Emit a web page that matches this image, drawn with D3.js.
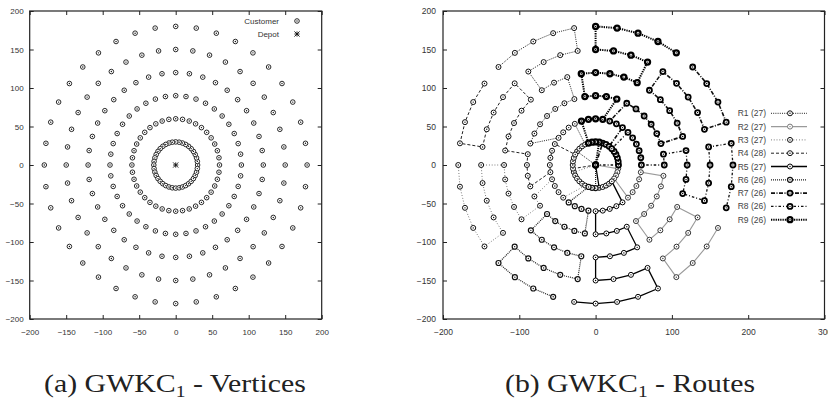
<!DOCTYPE html>
<html>
<head>
<meta charset="utf-8">
<script src="https://cdn.jsdelivr.net/npm/d3@7"></script>
<style>
body { margin: 0; background: #fff; }
</style>
</head>
<body>
<script>
const w = 828;
const h = 409;

// customers sit on rings around the depot
const ringRadii = [30, 60, 90, 120, 150, 180];
const ringAngles = [0, 9, 18, 27, 36, 45, 54, 63, 72, 81, 90, 99, 108, 117, 126, 135, 144, 153, 162, 171,
                    180, 189, 198, 207, 216, 225, 234, 243, 252, 261, 270, 279, 288, 297, 306, 315, 324, 333, 342, 351];
const depot = [0, 0];

const xTicksLeft = [-200, -150, -100, -50, 0, 50, 100, 150, 200];
const xTicksRight = [-200, -100, 0, 100, 200, 300];
const yTicks = [-200, -150, -100, -50, 0, 50, 100, 150, 200];

const routeLabels = ["R1 (27)", "R2 (27)", "R3 (27)", "R4 (28)", "R5 (27)", "R6 (26)", "R7 (26)", "R8 (26)", "R9 (26)"];

// routes: [ring index, angle index], from the depot outwards
const route1 = [[0,16],[0,15],[0,14],[0,13],[1,13],[1,14],[1,15],[1,16],[2,18],[2,17],[2,16],[2,15],[2,14],[2,13],
                [2,12],[3,12],[3,13],[3,14],[4,14],[4,13],[4,12],[4,11],[5,11],[5,12],[5,13],[5,14],[5,15]];
const route2 = [[0,39],[0,38],[0,37],[0,36],[1,35],[1,36],[1,37],[1,38],[1,39],[2,39],[2,38],[2,37],[2,36],[2,35],
                [2,34],[3,34],[3,35],[3,36],[3,37],[4,37],[4,36],[4,35],[4,34],[5,34],[5,35],[5,36],[5,37]];
const route3 = [[0,22],[0,23],[0,24],[0,25],[0,26],[0,27],[1,25],[1,24],[1,23],[1,22],[2,23],[2,24],[3,24],[3,23],
                [3,22],[3,21],[3,20],[4,20],[4,21],[4,22],[4,23],[4,24],[5,24],[5,23],[5,22],[5,21],[5,20]];
const route4 = [[0,21],[0,20],[0,19],[0,18],[0,17],[1,17],[1,18],[1,19],[1,20],[1,21],[2,22],[2,21],[2,20],[2,19],
                [3,19],[3,18],[3,17],[3,16],[3,15],[4,15],[4,16],[4,17],[4,18],[4,19],[5,19],[5,18],[5,17],[5,16]];
const route5 = [[0,31],[0,32],[0,33],[0,34],[0,35],[1,34],[1,33],[1,32],[1,31],[1,30],[2,30],[2,31],[2,32],[2,33],
                [3,33],[3,32],[3,31],[3,30],[4,30],[4,31],[4,32],[4,33],[5,33],[5,32],[5,31],[5,30],[5,29]];
const route6 = [[0,30],[0,29],[0,28],[1,26],[1,27],[1,28],[1,29],[2,29],[2,28],[2,27],[2,26],[2,25],[3,25],
                [3,26],[3,27],[3,28],[3,29],[4,29],[4,28],[4,27],[4,26],[4,25],[5,25],[5,26],[5,27],[5,28]];
const route7 = [[0,8],[0,7],[0,6],[1,6],[1,7],[1,8],[2,7],[2,6],[2,5],[2,4],[2,3],[2,2],[3,2],
                [3,3],[3,4],[3,5],[3,6],[4,6],[4,5],[4,4],[4,3],[4,2],[5,2],[5,3],[5,4],[5,5]];
const route8 = [[0,0],[0,1],[0,2],[0,3],[0,4],[0,5],[1,5],[1,4],[1,3],[1,2],[1,1],[1,0],[2,0],
                [2,1],[3,1],[3,0],[3,39],[3,38],[4,38],[4,39],[4,0],[4,1],[5,1],[5,0],[5,39],[5,38]];
const route9 = [[0,9],[0,10],[0,11],[0,12],[1,12],[1,11],[1,10],[1,9],[2,8],[2,9],[2,10],[2,11],[3,11],
                [3,10],[3,9],[3,8],[3,7],[4,7],[4,8],[4,9],[4,10],[5,10],[5,9],[5,8],[5,7],[5,6]];
const routes = [route1, route2, route3, route4, route5, route6, route7, route8, route9];

// line look of each route (gnuplot style)
const routeStyles = [
    {stroke: "#222", width: 1.0, dash: "1,1.2",       mark: 1.0, markStroke: "#111"},
    {stroke: "#9a9a9a", width: 1.1, dash: null,        mark: 1.0, markStroke: "#333"},
    {stroke: "#333", width: 0.8, dash: "0.8,2",       mark: 1.0, markStroke: "#111"},
    {stroke: "#222", width: 1.0, dash: "3,2",         mark: 1.0, markStroke: "#111"},
    {stroke: "#000", width: 1.3, dash: null,          mark: 1.0, markStroke: "#000"},
    {stroke: "#222", width: 1.2, dash: "1,1",         mark: 1.2, markStroke: "#111"},
    {stroke: "#111", width: 1.6, dash: "4,1.5,1,1.5", mark: 1.8, markStroke: "#000"},
    {stroke: "#111", width: 1.3, dash: "2.5,2,1,2",   mark: 1.8, markStroke: "#000"},
    {stroke: "#000", width: 2.0, dash: "1.3,1",       mark: 2.3, markStroke: "#000"}
];

function toXY(node) {
    const r = ringRadii[node[0]];
    const a = ringAngles[node[1]] * Math.PI / 180;
    return [r * Math.cos(a), r * Math.sin(a)];
}

let customers = [];
ringRadii.forEach((r, i) => ringAngles.forEach((a, j) => customers.push(toXY([i, j]))));

const svg = d3.select("body")
            .append("svg")
                .attr("width", w)
                .attr("height", h);

const xL = d3.scaleLinear().domain([-200, 200]).range([29.7, 321.7]);
const yL = d3.scaleLinear().domain([-200, 200]).range([319, 11]);
const xR = d3.scaleLinear().domain([-200, 300]).range([443, 824.5]);
const yR = d3.scaleLinear().domain([-200, 200]).range([319, 11]);

function frame(x, y, xTicks, font, fontSize, yPad) {
    const g = svg.append("g");
    const x0 = x.range()[0], x1 = x.range()[1];
    const y0 = y.range()[0], y1 = y.range()[1];
    g.append("g").attr("transform", "translate(0," + y0 + ")")
        .call(d3.axisBottom(x).tickValues(xTicks).tickSizeInner(-4).tickSizeOuter(0).tickPadding(10));
    g.append("g").attr("transform", "translate(0," + y1 + ")")
        .call(d3.axisTop(x).tickValues(xTicks).tickSizeInner(-4).tickSizeOuter(0).tickFormat(""));
    g.append("g").attr("transform", "translate(" + x0 + ",0)")
        .call(d3.axisLeft(y).tickValues(yTicks).tickSizeInner(-4).tickSizeOuter(0).tickPadding(yPad));
    g.append("g").attr("transform", "translate(" + x1 + ",0)")
        .call(d3.axisRight(y).tickValues(yTicks).tickSizeInner(-4).tickSizeOuter(0).tickFormat(""));
    g.selectAll(".domain").remove();
    g.selectAll(".tick line").attr("stroke", "#222").attr("stroke-width", 1);
    g.selectAll(".tick text").attr("fill", "#333")
        .attr("font-family", font).attr("font-size", fontSize);
    g.append("rect")
        .attr("x", x0).attr("y", y1)
        .attr("width", x1 - x0).attr("height", y0 - y1)
        .attr("fill", "none").attr("stroke", "#222").attr("stroke-width", 1.2);
}

function marker(g, px, py, sw, col, r) {
    g.append("circle").attr("cx", px).attr("cy", py).attr("r", r || 2.3)
        .attr("fill", "#fff").attr("stroke", col).attr("stroke-width", sw);
    g.append("circle").attr("cx", px).attr("cy", py).attr("r", 0.7).attr("fill", col);
}

function star(g, px, py, s) {
    [[-s, 0, s, 0], [0, -s, 0, s], [-s, -s, s, s], [-s, s, s, -s]].forEach(l => {
        g.append("line")
            .attr("x1", px + l[0]).attr("y1", py + l[1])
            .attr("x2", px + l[2]).attr("y2", py + l[3])
            .attr("stroke", "#111").attr("stroke-width", 0.9);
    });
}

// (a) vertices
frame(xL, yL, xTicksLeft, "Liberation Sans Narrow, Liberation Sans", 8, 6);
const ga = svg.append("g");
customers.forEach(c => marker(ga, xL(c[0]), yL(c[1]), 0.9, "#111"));
star(ga, xL(depot[0]), yL(depot[1]), 2.6);

ga.append("text").attr("x", 279).attr("y", 24).attr("text-anchor", "end")
    .attr("font-family", "Liberation Sans Narrow, Liberation Sans").attr("font-size", 8).attr("fill", "#333")
    .text("Customer");
marker(ga, 297, 21, 0.9, "#111");
ga.append("text").attr("x", 279).attr("y", 37).attr("text-anchor", "end")
    .attr("font-family", "Liberation Sans Narrow, Liberation Sans").attr("font-size", 8).attr("fill", "#333")
    .text("Depot");
star(ga, 297, 34, 2.6);

// (b) routes
frame(xR, yR, xTicksRight, "Liberation Sans", 8.5, 7);
const gb = svg.append("g");
const line = d3.line().x(d => xR(d[0])).y(d => yR(d[1]));

routes.forEach((route, i) => {
    const st = routeStyles[i];
    const pts = [depot].concat(route.map(toXY));
    gb.append("path")
        .attr("d", line(pts))
        .attr("fill", "none")
        .attr("stroke", st.stroke)
        .attr("stroke-width", st.width)
        .attr("stroke-dasharray", st.dash);
    pts.forEach(p => marker(gb, xR(p[0]), yR(p[1]), st.mark, st.markStroke, 2.5));
});

// key
routeLabels.forEach((lab, i) => {
    const st = routeStyles[i];
    const ky = 113.3 + i * 13.3;
    gb.append("text").attr("x", 766).attr("y", ky + 3).attr("text-anchor", "end")
        .attr("font-family", "Liberation Sans").attr("font-size", 8.5).attr("fill", "#444")
        .text(lab);
    gb.append("line").attr("x1", 771).attr("x2", 807).attr("y1", ky).attr("y2", ky)
        .attr("stroke", st.stroke).attr("stroke-width", st.width)
        .attr("stroke-dasharray", st.dash);
    marker(gb, 790, ky, st.mark, i === 1 ? "#777" : st.markStroke, 2.5);
});

// captions
function caption(cx, label, rest, len) {
    const t = svg.append("text")
        .attr("x", cx).attr("y", 392)
        .attr("text-anchor", "middle")
        .attr("font-family", "Liberation Serif, DejaVu Serif, serif")
        .attr("font-size", 26)
        .attr("fill", "#222")
        .attr("textLength", len)
        .attr("lengthAdjust", "spacingAndGlyphs");
    t.append("tspan").text(label + " GWKC");
    t.append("tspan").attr("font-size", 17).attr("dy", 5).text("1");
    t.append("tspan").attr("dy", -5).text(" - " + rest);
}
caption(175, "(a)", "Vertices", 262);
caption(630, "(b)", "Routes", 250);
</script>
</body>
</html>
